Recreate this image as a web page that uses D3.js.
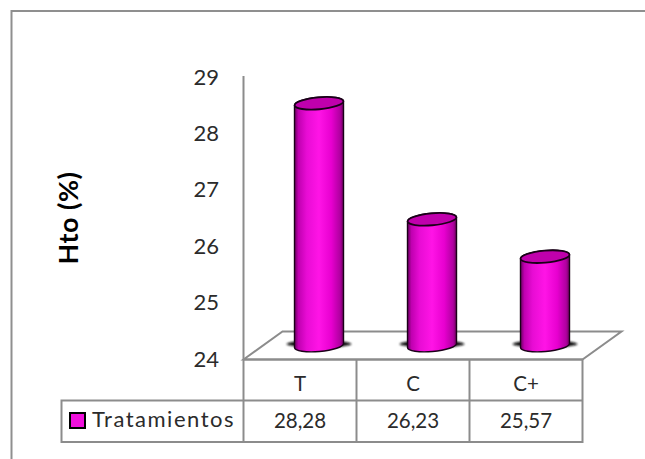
<!DOCTYPE html>
<html>
<head>
<meta charset="utf-8">
<script src="https://cdn.jsdelivr.net/npm/d3@7/dist/d3.min.js"></script>
<style>
html,body{margin:0;padding:0;background:#fff;}
svg{display:block;}
text{font-family:Lato,"Open Sans",sans-serif;fill:#2b2b2b;}
</style>
</head>
<body>
<svg id="chart" width="645" height="459"></svg>
<script>
const categories = ["T", "C", "C+"];
const values = [28.28, 26.23, 25.57];
const valueLabels = ["28,28", "26,23", "25,57"];
const tickValues = [24, 25, 26, 27, 28, 29];
const seriesName = "Tratamientos";
const axisTitle = "Hto (%)";

const svg = d3.select("#chart");
const grey = "#8c8c8c";

// Page background frame: only the top and left sides are visible
svg.append("path").attr("d", "M11.5,459V11H645").attr("fill", "none")
  .attr("stroke", "#8f8f8f").attr("stroke-width", 2);

// Scales: the axis spans the wall, the bars stand slightly behind its front edge
const yAxis = d3.scaleLinear().domain([24, 29]).range([361, 79]);
const yBar = d3.scaleLinear().domain([24, 29]).range([345.5, 62.5]);
const x = d3.scaleBand().domain(categories).range([243.5, 582.5]);

// Cylinder shading
const defs = svg.append("defs");
const grad = defs.append("linearGradient").attr("id", "cyl");
[[0, "#6a0060"], [0.08, "#c000b0"], [0.25, "#e80cd4"], [0.5, "#ff14e6"],
 [0.75, "#e800d0"], [0.93, "#b000a0"], [1, "#700060"]].forEach(([o, c]) =>
  grad.append("stop").attr("offset", o).attr("stop-color", c));
defs.append("filter").attr("id", "soft").append("feGaussianBlur").attr("stdDeviation", 1.3);

// Floor of the plot area
const fl = { y0: 359.5, y1: 331.5, dx: 39 };
svg.append("path")
  .attr("d", `M${x.range()[0]},${fl.y0}L${x.range()[0] + fl.dx},${fl.y1}H${x.range()[1] + fl.dx}L${x.range()[1]},${fl.y0}Z`)
  .attr("fill", "#fff").attr("stroke", grey).attr("stroke-width", 2);

// Vertical axis line
svg.append("line").attr("x1", 243.5).attr("x2", 243.5)
  .attr("y1", 76).attr("y2", 360)
  .attr("stroke", grey).attr("stroke-width", 2);

// Tick labels
svg.append("g").selectAll("text").data(tickValues).join("text")
  .attr("x", 219).attr("y", d => yAxis(d)).attr("text-anchor", "end")
  .attr("dominant-baseline", "middle").attr("font-size", 22).text(d => d);

// Axis title
svg.append("text")
  .attr("transform", "translate(71,218) rotate(-90)")
  .attr("text-anchor", "middle").attr("dominant-baseline", "middle")
  .attr("font-size", 27).attr("letter-spacing", 0.5).attr("font-weight", 700)
  .style("fill", "#000").text(axisTitle);

// Data table
const tableLeft = 61.5, rows = [359.5, 400.5, 442];
const table = svg.append("g").attr("fill", "none").attr("stroke", grey).attr("stroke-width", 2);
table.append("path").attr("d", `M${x.range()[0]},${rows[0]}H${x.range()[1]}V${rows[2]}H${tableLeft}V${rows[1]}H${x.range()[1]}`);
[0, 1, 2].forEach(i => table.append("line")
  .attr("x1", x(categories[i])).attr("x2", x(categories[i]))
  .attr("y1", rows[0]).attr("y2", rows[2]));

svg.append("g").selectAll("text").data(categories).join("text")
  .attr("x", d => x(d) + x.bandwidth() / 2).attr("y", (rows[0] + rows[1]) / 2 + 6)
  .attr("text-anchor", "middle").attr("dominant-baseline", "middle")
  .attr("font-size", 20.5).text(d => d);
svg.append("g").selectAll("text").data(valueLabels).join("text")
  .attr("x", (d, i) => x(categories[i]) + x.bandwidth() / 2).attr("y", (rows[1] + rows[2]) / 2 + 1.5)
  .attr("text-anchor", "middle").attr("dominant-baseline", "middle")
  .attr("font-size", 20.5).text(d => d);

// Legend key and series name
svg.append("rect").attr("x", 70).attr("y", 413).attr("width", 15).attr("height", 15)
  .attr("fill", "#f010dc").attr("stroke", "#000").attr("stroke-width", 2);
svg.append("text").attr("x", 92).attr("y", 421).attr("dominant-baseline", "middle")
  .attr("font-size", 22).attr("letter-spacing", 1.5).text(seriesName);

// Cylinders
const rx = 24.5, ry = 6, tilt = -5;
const offset = 19; // bar centre sits behind and right of the band centre
const bars = svg.append("g").selectAll("g").data(values).join("g")
  .attr("transform", (d, i) => `translate(${x(categories[i]) + x.bandwidth() / 2 + offset},0)`);

bars.append("ellipse").attr("cy", 344).attr("rx", rx + 8).attr("ry", 3.5)
  .attr("fill", "#111").attr("filter", "url(#soft)");

bars.each(function (v) {
  const g = d3.select(this);
  const top = yBar(v), base = yBar(24);
  const a = tilt * Math.PI / 180;
  const dy = rx * Math.sin(a);
  const body = `M${-rx},${top - dy}L${-rx},${base - dy}` +
    `A${rx},${ry} ${tilt} 0 0 ${rx},${base + dy}L${rx},${top + dy}` +
    `A${rx},${ry} ${tilt} 0 0 ${-rx},${top - dy}Z`;
  g.append("path").attr("d", body).attr("fill", "url(#cyl)")
    .attr("stroke", "#1a0018").attr("stroke-width", 1.4);
  g.append("ellipse").attr("cy", top).attr("rx", rx).attr("ry", ry)
    .attr("transform", `rotate(${tilt} 0 ${top})`)
    .attr("fill", "#c000ac").attr("stroke", "#1a0018").attr("stroke-width", 1.8);
});
</script>
</body>
</html>
